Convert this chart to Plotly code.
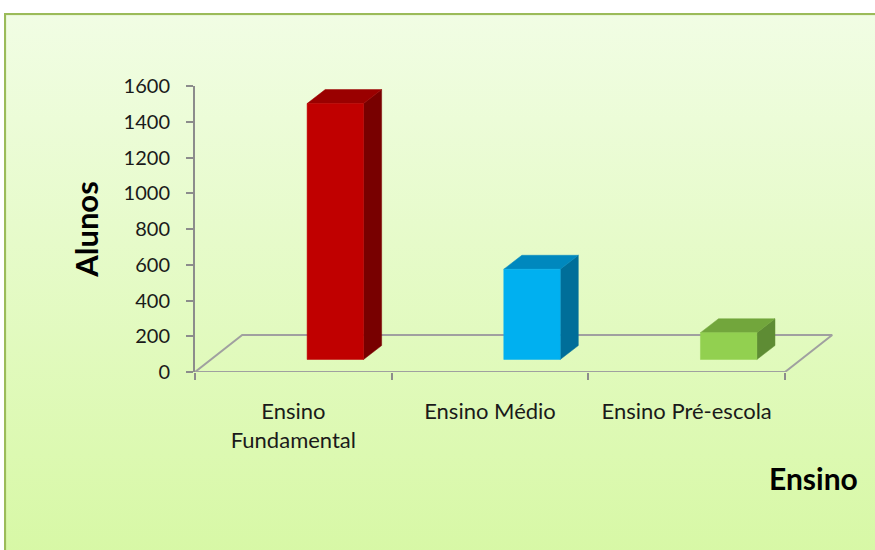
import base64
import plotly.graph_objects as go

# Enrolment by school level
categories = ["Ensino<br>Fundamental", "Ensino Médio", "Ensino Pré-escola"]
alunos = [1432, 505, 150]
y_ticks = [0, 200, 400, 600, 800, 1000, 1200, 1400, 1600]

front_colors = ["#C00000", "#00B0F0", "#92D050"]
top_colors = ["#9A0000", "#0088BE", "#72A63C"]
side_colors = ["#780000", "#006E99", "#5E8C34"]

# Pseudo-3D geometry (in axis units)
W, H = 875, 550
ML, MR, MT, MB = 195, 35, 86, 178
PX_PER_CAT = 196.67
X_MIN = -0.5
X_MAX = X_MIN + (W - ML - MR) / PX_PER_CAT
FLOOR_DX, FLOOR_DY = 0.24, 207      # depth offset of the floor
BAR_X0, BAR_W = 0.07, 0.287         # front face relative to category
BAR_BASE = 70                       # front face base sits inside the floor
SIDE_DX, SIDE_DY = 0.092, 78        # depth of each bar

fig = go.Figure()

# Floor outline
n = len(categories)
fx = [X_MIN, X_MIN + n, X_MIN + n + FLOOR_DX, X_MIN + FLOOR_DX, X_MIN]
fy = [0, 0, FLOOR_DY, FLOOR_DY, 0]
fig.add_trace(go.Scatter(x=fx, y=fy, mode="lines",
                         line=dict(color="#A0A0A0", width=2),
                         hoverinfo="skip", showlegend=False))

# Columns: side, top and front faces
for i, v in enumerate(alunos):
    x0 = i + BAR_X0
    x1 = x0 + BAR_W
    y0 = BAR_BASE
    y1 = BAR_BASE + v
    side = ([x1, x1 + SIDE_DX, x1 + SIDE_DX, x1, x1],
            [y0, y0 + SIDE_DY, y1 + SIDE_DY, y1, y0])
    top = ([x0, x1, x1 + SIDE_DX, x0 + SIDE_DX, x0],
           [y1, y1, y1 + SIDE_DY, y1 + SIDE_DY, y1])
    front = ([x0, x1, x1, x0, x0], [y0, y0, y1, y1, y0])
    for (px, py), col in ((side, side_colors[i]), (top, top_colors[i]),
                          (front, front_colors[i])):
        fig.add_trace(go.Scatter(x=px, y=py, mode="lines", fill="toself",
                                 fillcolor=col, line=dict(color=col, width=0.5),
                                 hoverinfo="skip", showlegend=False))

# Chart-area background with vertical gradient and green border
bw, bh = 880, 545
svg = (f'<svg xmlns="http://www.w3.org/2000/svg" width="{bw}" height="{bh}" '
       f'viewBox="0 0 {bw} {bh}" preserveAspectRatio="none">'
       '<defs><linearGradient id="g" x1="0" y1="0" x2="0" y2="1">'
       '<stop offset="0" stop-color="#F1FDE4"/>'
       '<stop offset="1" stop-color="#D7F8A5"/></linearGradient></defs>'
       f'<rect x="1" y="1" width="{bw}" height="{bh}" fill="url(#g)" '
       'stroke="#9BBB59" stroke-width="2.2"/></svg>')
src = "data:image/svg+xml;base64," + base64.b64encode(svg.encode()).decode()
pw, ph = W - ML - MR, H - MT - MB
fig.add_layout_image(dict(source=src, xref="paper", yref="paper",
                          x=(4 - ML) / pw, y=(H - MB - 13) / ph,
                          sizex=bw / pw, sizey=bh / ph,
                          xanchor="left", yanchor="top",
                          sizing="stretch", layer="below"))

font_family = "Lato, 'Open Sans', sans-serif"

fig.update_layout(
    width=W, height=H, autosize=False,
    margin=dict(l=ML, r=MR, t=MT, b=MB, pad=0),
    paper_bgcolor="white", plot_bgcolor="rgba(0,0,0,0)",
    font=dict(family=font_family, color="#1A1A1A"),
    xaxis=dict(range=[X_MIN, X_MAX], showgrid=False, zeroline=False,
               showline=False, tickvals=list(range(n)), ticktext=categories,
               ticks="", tickfont=dict(size=22, color="#1A1A1A"),
               ticklabelstandoff=24,
               minor=dict(tickvals=[X_MIN + k for k in range(n + 1)],
                          ticks="outside", ticklen=7, tickwidth=2,
                          tickcolor="#8C8C8C", showgrid=False)),
    yaxis=dict(range=[0, 1600], tickvals=y_ticks, showgrid=False,
               zeroline=False, showline=True, linecolor="#8C8C8C",
               linewidth=2, ticks="outside", ticklen=7, tickwidth=2,
               tickcolor="#8C8C8C", tickfont=dict(size=20, color="#1A1A1A"),
               ticklabelstandoff=12,
               title=dict(text="<b>Alunos</b>", standoff=16,
                          font=dict(size=31, color="#000000"))),
    annotations=[dict(text="<b>Ensino</b>", xref="paper", yref="paper",
                      x=(860 - ML) / pw, y=(H - MB - 478) / ph,
                      xanchor="right", yanchor="middle", showarrow=False,
                      font=dict(size=30, color="#000000",
                                family=font_family))],
)

fig.write_html("out.html")
